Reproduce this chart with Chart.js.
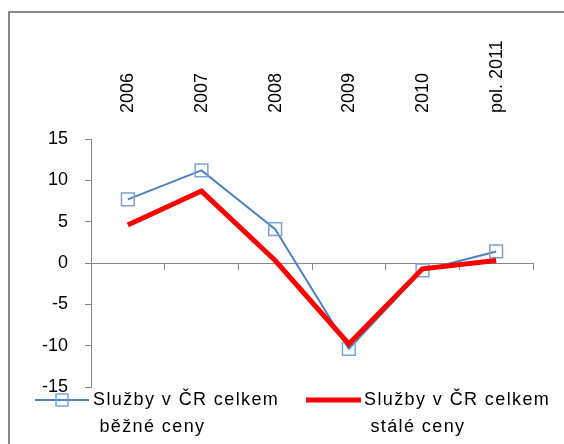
<!DOCTYPE html>
<html>
<head>
<meta charset="utf-8">
<script src="https://cdn.jsdelivr.net/npm/chart.js@4"></script>
<style>
  body { margin: 0; background: #fff; }
  #wrap { width: 564px; height: 444px; }
</style>
</head>
<body>
<div id="wrap"><canvas id="myChart" width="564" height="444"></canvas></div>
<script>
// DATA
var categories = ['2006', '2007', '2008', '2009', '2010', 'pol. 2011'];
var bezneCeny = [7.7, 11.2, 4.1, -10.4, -0.9, 1.4];
var staleCeny = [4.6, 8.7, 0.3, -9.8, -0.7, 0.3];
var seriesNames = [['Služby v ČR celkem', ' běžné ceny'], ['Služby v ČR celkem', ' stálé ceny']];
var yTicks = [-15, -10, -5, 0, 5, 10, 15];

var FONT = "'Liberation Sans', Arial, sans-serif";
var GRAY = '#868686';

document.addEventListener('DOMContentLoaded', function(){

var ctx = document.getElementById('myChart').getContext('2d');

// frame round the chart (cut off on the right and bottom)
var framePlugin = {
    id: 'frame',
    beforeDraw: function(chart) {
        var c = chart.ctx;
        c.save();
        c.strokeStyle = GRAY;
        c.lineWidth = 2;
        c.strokeRect(9, 12, 620, 500);
        c.restore();
    }
};

// two-line legend under the plot
var legendPlugin = {
    id: 'twoLineLegend',
    afterDraw: function(chart) {
        var c = chart.ctx;
        var sets = chart.data.datasets;
        var items = [
            { ds: sets[1], x1: 35, x2: 89, tx: 93 },
            { ds: sets[0], x1: 306, x2: 361, tx: 364 }
        ];
        c.save();
        items.forEach(function(it) {
            var y = 400;
            c.strokeStyle = it.ds.borderColor;
            c.lineWidth = it.ds.borderWidth;
            c.beginPath();
            c.moveTo(it.x1, y);
            c.lineTo(it.x2, y);
            c.stroke();
            if (it.ds.pointRadius > 0) {
                c.strokeStyle = it.ds.pointBorderColor;
                c.lineWidth = it.ds.pointBorderWidth;
                var m = (it.x1 + it.x2) / 2;
                c.strokeRect(m - 6, y - 6, 12, 12);
            }
            c.fillStyle = '#000';
            c.font = '18px ' + FONT;
            c.letterSpacing = '1.4px';
            c.textBaseline = 'middle';
            c.textAlign = 'left';
            it.ds.label.forEach(function(line, i) {
                c.fillText(line, it.tx, y + i * 27);
            });
        });
        c.restore();
    }
};

var chart = new Chart(ctx, {
    type: 'line',
    data: {
        labels: categories,
        datasets: [{
            label: seriesNames[1],
            data: staleCeny,
            borderColor: '#FF0000',
            borderWidth: 5,
            pointRadius: 0,
            pointHoverRadius: 0,
            tension: 0,
            order: 0
        }, {
            label: seriesNames[0],
            data: bezneCeny,
            borderColor: '#4F81BD',
            borderWidth: 2,
            pointStyle: 'rect',
            pointRadius: 9,
            pointBorderColor: '#7DA1D4',
            pointBorderWidth: 1.5,
            pointBackgroundColor: 'rgba(0,0,0,0)',
            tension: 0,
            order: 1
        }]
    },
    options: {
        responsive: false,
        animation: false,
        layout: { padding: { left: 0, top: 0, right: 31, bottom: 57 } },
        plugins: {
            legend: { display: false },
            title: { display: false },
            tooltip: { enabled: false }
        },
        scales: {
            x: {
                type: 'category',
                position: 'top',
                offset: true,
                grid: { display: false, drawTicks: false },
                border: { display: false },
                ticks: {
                    minRotation: 90,
                    maxRotation: 90,
                    padding: 26,
                    labelOffset: 22,
                    color: '#000',
                    font: { family: FONT, size: 18 }
                },
                afterFit: function(scale) { scale.height = 139; }
            },
            x0: {
                type: 'category',
                labels: categories,
                position: { y: 0 },
                offset: true,
                grid: { offset: true, drawOnChartArea: false, tickLength: 6, color: GRAY },
                border: { color: GRAY, width: 1 },
                ticks: { display: false }
            },
            y: {
                position: 'left',
                min: yTicks[0],
                max: yTicks[yTicks.length - 1],
                afterBuildTicks: function(scale) {
                    scale.ticks = yTicks.map(function(v) { return { value: v }; });
                },
                grid: { drawOnChartArea: false, tickLength: 6, color: GRAY },
                border: { color: GRAY, width: 1 },
                ticks: {
                    padding: 17,
                    color: '#000',
                    font: { family: FONT, size: 18 }
                },
                afterFit: function(scale) { scale.width = 91; }
            }
        }
    },
    plugins: [framePlugin, legendPlugin]
});

});
</script>
</body>
</html>
